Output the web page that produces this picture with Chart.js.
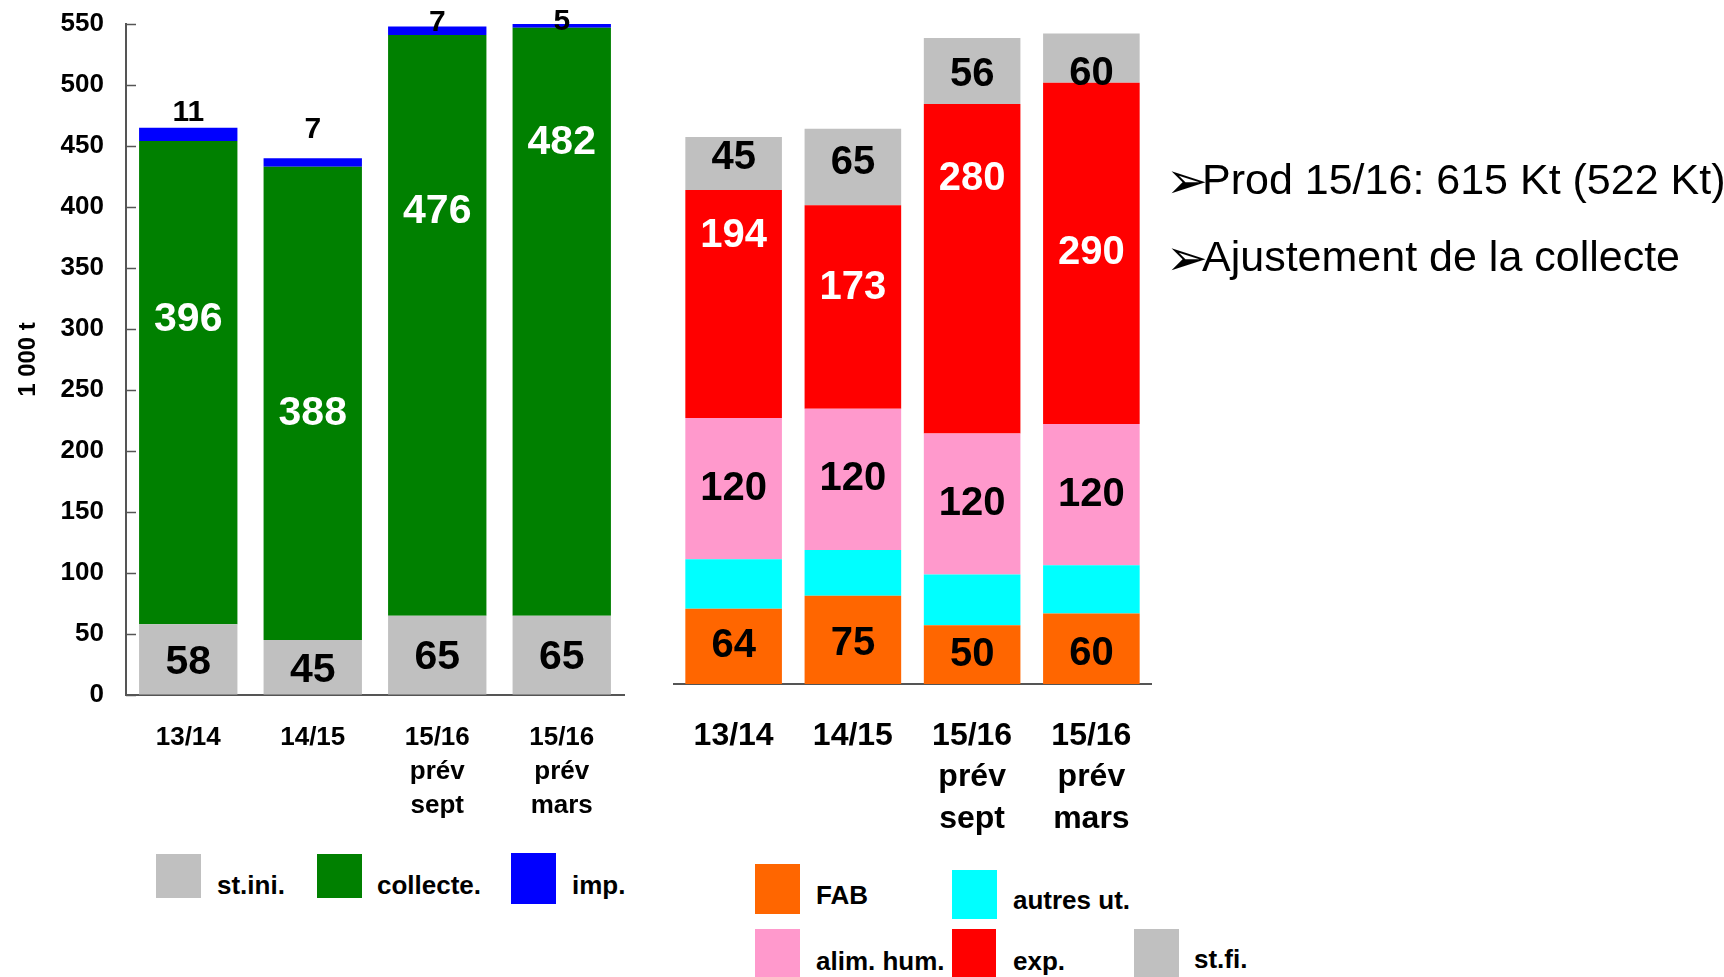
<!DOCTYPE html>
<html>
<head>
<meta charset="utf-8">
<script src="https://cdn.jsdelivr.net/npm/chart.js@4.4.1/dist/chart.umd.min.js"></script>
<style>
  body { margin: 0; background: #fff; font-family: "Liberation Sans", Arial, sans-serif; }
  #page { position: relative; width: 1724px; height: 977px; overflow: hidden; }
  canvas { position: absolute; }
  .sw { position: absolute; }
  .lt { position: absolute; font-weight: bold; font-size: 26px; line-height: 26px; white-space: nowrap; transform: translateY(-50%); color: #000; }
  .bul { position: absolute; font-size: 43px; line-height: 43px; white-space: nowrap; transform: translateY(-50%); color: #000; }
  .arr { position: absolute; font-family: "DejaVu Sans", sans-serif; font-size: 50px; line-height: 50px; transform: translateY(-50%); color: #000; }
</style>
</head>
<body>
<div id="page">
  <canvas id="leftChart" width="650" height="840" style="left:0;top:0"></canvas>
  <canvas id="rightChart" width="520" height="850" style="left:660px;top:0"></canvas>
  <div id="legends"></div>
  <span class="arr" style="left:1166px;top:181px">➢</span>
  <span class="bul" style="left:1202px;top:179px">Prod 15/16: 615 Kt (522 Kt)</span>
  <span class="arr" style="left:1166px;top:258px">➢</span>
  <span class="bul" style="left:1202px;top:256px">Ajustement de la collecte</span>
</div>
<script>
"use strict";

// categories
const categories = [["13/14"], ["14/15"], ["15/16", "prév", "sept"], ["15/16", "prév", "mars"]];

// left chart: ressources (1 000 t)
const stIni = [58, 45, 65, 65];
const collecte = [396, 388, 476, 482];
const imp = [11, 7, 7, 5];

// right chart: emplois (1 000 t)
const fab = [64, 75, 50, 60];
const autresUt = [42, 39, 43, 41];
const alimHum = [120, 120, 120, 120];
const expo = [194, 173, 280, 290];
const stFi = [45, 65, 56, 42];
const stFiText = ["45", "65", "56", "60"];

const FONT = "'Liberation Sans', Arial, sans-serif";

// draw value labels on the bars
const barLabels = {
    id: 'barLabels',
    afterDatasetsDraw(chart) {
        const ctx = chart.ctx;
        chart.data.datasets.forEach((ds, di) => {
            if (!ds.lbl) return;
            const meta = chart.getDatasetMeta(di);
            meta.data.forEach((el, i) => {
                const text = ds.lbl.text ? ds.lbl.text[i] : String(ds.data[i]);
                let y = ds.lbl.mode === 'top' ? el.y : (el.y + el.base) / 2;
                y += ds.lbl.nudge[i];
                ctx.save();
                ctx.font = 'bold ' + ds.lbl.size + 'px ' + FONT;
                ctx.fillStyle = ds.lbl.color;
                ctx.textAlign = 'center';
                ctx.textBaseline = 'middle';
                ctx.fillText(text, el.x, y);
                ctx.restore();
            });
        });
    }
};

// tick marks pointing into the plot
const innerTicks = {
    id: 'innerTicks',
    afterDraw(chart) {
        const sc = chart.scales.y;
        if (!sc.options.display) return;
        const ctx = chart.ctx;
        const x0 = chart.chartArea.left;
        ctx.save();
        ctx.strokeStyle = '#555';
        ctx.lineWidth = 1.5;
        sc.ticks.forEach(t => {
            const y = Math.round(sc.getPixelForValue(t.value)) + 0.5;
            ctx.beginPath();
            ctx.moveTo(x0, y);
            ctx.lineTo(x0 + 10, y);
            ctx.stroke();
        });
        ctx.restore();
    }
};

const leftSeries = [
    { label: 'st.ini.', data: stIni, backgroundColor: '#C0C0C0',
      lbl: { color: '#000', size: 41, nudge: [3, 3, 3, 3] } },
    { label: 'collecte.', data: collecte, backgroundColor: '#008000',
      lbl: { color: '#fff', size: 41, nudge: [-63, 10, -114, -179] } },
    { label: 'imp.', data: imp, backgroundColor: '#0000FF',
      lbl: { color: '#000', size: 30, mode: 'top', nudge: [-15, -28, -4, 0] } }
];

const rightSeries = [
    { label: 'FAB', data: fab, backgroundColor: '#FF6600',
      lbl: { color: '#000', size: 40, nudge: [0, 4, 0, 5] } },
    { label: 'autres ut.', data: autresUt, backgroundColor: '#00FFFF' },
    { label: 'alim. hum.', data: alimHum, backgroundColor: '#FF99CC',
      lbl: { color: '#000', size: 40, nudge: [0, 0, 0, 0] } },
    { label: 'exp.', data: expo, backgroundColor: '#FF0000',
      lbl: { color: '#fff', size: 40, nudge: [-68, -19, -90, 0] } },
    { label: 'st.fi.', data: stFi, backgroundColor: '#C0C0C0',
      lbl: { color: '#000', size: 40, text: stFiText, nudge: [-5, -4, 4, 16] } }
];

const barStyle = { barPercentage: 0.79, categoryPercentage: 1, borderWidth: 0 };

const leftChart = new Chart(document.getElementById('leftChart'), {
    type: 'bar',
    data: {
        labels: categories,
        datasets: leftSeries.map(s => Object.assign({}, barStyle, s))
    },
    options: {
        responsive: false,
        animation: false,
        layout: { padding: { top: 24, left: 0, right: 26, bottom: 0 } },
        plugins: { legend: { display: false }, tooltip: { enabled: false } },
        scales: {
            x: {
                stacked: true,
                grid: { display: false },
                border: { display: true, color: '#555', width: 2 },
                ticks: { color: '#000', font: { family: FONT, size: 26, weight: 'bold', lineHeight: 1.3 },
                         padding: 18, maxRotation: 0, autoSkip: false },
                afterFit(s) { s.height = 145; }
            },
            y: {
                stacked: true,
                min: 0,
                max: 550,
                grid: { display: true, drawOnChartArea: false, drawTicks: true, tickLength: 18, tickColor: 'rgba(0,0,0,0)' },
                border: { display: true, color: '#555', width: 2 },
                ticks: { stepSize: 50, color: '#000', font: { family: FONT, size: 26, weight: 'bold' }, padding: 4 },
                title: { display: true, text: '1 000 t', color: '#000',
                         font: { family: FONT, size: 24, weight: 'bold' }, padding: { top: 14 } },
                afterFit(s) { s.width = 126; }
            }
        }
    },
    plugins: [barLabels, innerTicks]
});

const rightChart = new Chart(document.getElementById('rightChart'), {
    type: 'bar',
    data: {
        labels: categories,
        datasets: rightSeries.map(s => Object.assign({}, barStyle, s, { barPercentage: 0.81 }))
    },
    options: {
        responsive: false,
        animation: false,
        layout: { padding: { top: 4, left: 14, right: 29, bottom: 0 } },
        plugins: { legend: { display: false }, tooltip: { enabled: false } },
        scales: {
            x: {
                stacked: true,
                grid: { display: false },
                border: { display: true, color: '#555', width: 2 },
                ticks: { color: '#000', font: { family: FONT, size: 32, weight: 'bold', lineHeight: 1.3 },
                         padding: 23, maxRotation: 0, autoSkip: false },
                afterFit(s) { s.height = 166; }
            },
            y: { display: false, stacked: true, min: 0, max: 578 }
        }
    },
    plugins: [barLabels]
});

// legends: [square left, top, w, h, text left, text centre y]
const leftLegendPos = [[156, 854, 45, 44, 217, 885], [317, 854, 45, 44, 377, 885], [511, 853, 45, 51, 572, 885]];
const rightLegendPos = [[755, 864, 45, 50, 816, 895], [952, 870, 45, 49, 1013, 900],
                        [755, 929, 45, 48, 816, 961], [952, 929, 44, 48, 1013, 961], [1134, 929, 45, 48, 1194, 959]];

const legendBox = document.getElementById('legends');
function addLegend(series, pos) {
    series.forEach((s, i) => {
        const p = pos[i];
        const sq = document.createElement('div');
        sq.className = 'sw';
        sq.style.cssText = `left:${p[0]}px;top:${p[1]}px;width:${p[2]}px;height:${p[3]}px;background:${s.backgroundColor}`;
        legendBox.appendChild(sq);
        const tx = document.createElement('span');
        tx.className = 'lt';
        tx.style.left = p[4] + 'px';
        tx.style.top = p[5] + 'px';
        tx.textContent = s.label;
        legendBox.appendChild(tx);
    });
}
addLegend(leftSeries, leftLegendPos);
addLegend(rightSeries, rightLegendPos);
</script>
</body>
</html>
